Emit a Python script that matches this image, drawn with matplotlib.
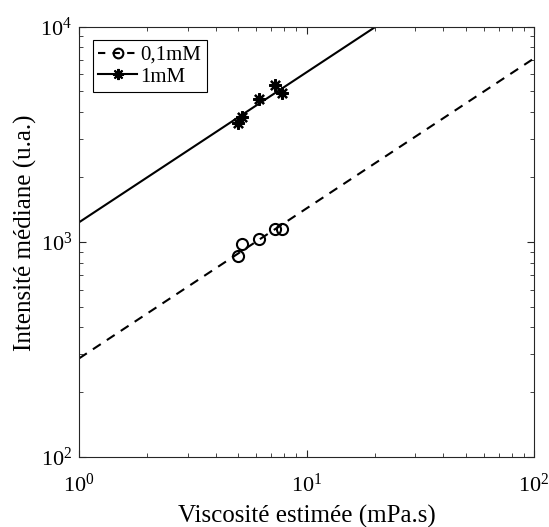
import numpy as np
import matplotlib.pyplot as plt

plt.rcParams['font.family'] = 'Liberation Serif'
plt.rcParams['mathtext.fontset'] = 'custom'
plt.rcParams['mathtext.rm'] = 'Liberation Serif'
plt.rcParams['mathtext.it'] = 'Liberation Serif:italic'

# data
visc = [5.01, 5.22, 6.18, 7.27, 7.78]
i_01mM = [859, 972, 1026, 1142, 1142]
i_1mM = [3573, 3785, 4589, 5350, 4893]

# power-law fits  I = a * visc**b
fit_b = 0.697
fit_a_01mM = 287
fit_a_1mM = 1231

xf = np.logspace(0, 2, 200)

fig = plt.figure(figsize=(5.49, 5.27), dpi=100)
ax = fig.add_axes([0.1439, 0.1328, 0.8288, 0.8169])

ax.plot(xf, fit_a_01mM*xf**fit_b, color='k', lw=1.5, ls=(0, (4.5, 3.5)))
ax.plot(xf, fit_a_1mM*xf**fit_b, color='k', lw=1.5, ls='-')
ax.plot(visc, i_01mM, 'o', mfc='none', mec='k', ms=8, mew=1.5)
ax.plot(visc, i_1mM, ls='none', marker=(8, 2, 0), mec='k', ms=9, mew=1.6)

# legend handles
h1, = ax.plot([], [], color='k', lw=1.5, ls=(0, (3.5, 3.5)), marker='o', mfc='none', ms=7, mew=1.5)
h2, = ax.plot([], [], color='k', lw=1.5, ls='-', marker=(8, 2, 0), ms=8, mew=1.5)
leg = ax.legend([h1, h2], ['0,1mM', '1mM'], loc='upper left', fontsize=15,
                fancybox=False, edgecolor='k', framealpha=1, handlelength=1.9,
                handletextpad=0.15, borderpad=0.25, labelspacing=0.1,
                borderaxespad=0.65)
leg.get_frame().set_linewidth(0.8)

ax.set_xscale('log')
ax.set_yscale('log')
ax.set_xlim(1, 100)
ax.set_ylim(100, 10000)
ax.set_xlabel('Viscosité estimée (mPa.s)', fontsize=18, labelpad=6)
ax.set_ylabel('Intensité médiane (u.a.)', fontsize=18)
ax.yaxis.set_label_coords(-0.092, 0.52)

for s in ax.spines.values():
    s.set_color('#262626')
    s.set_linewidth(0.8)
ax.tick_params(which='both', direction='in', top=True, right=True, colors='#262626',
               labelcolor='k', labelsize=16)
ax.tick_params(which='major', length=5)
ax.tick_params(which='minor', length=3)
ax.tick_params(axis='x', which='major', pad=12)
ax.tick_params(axis='y', which='major', pad=5)

plt.savefig('out.png', dpi=100)
